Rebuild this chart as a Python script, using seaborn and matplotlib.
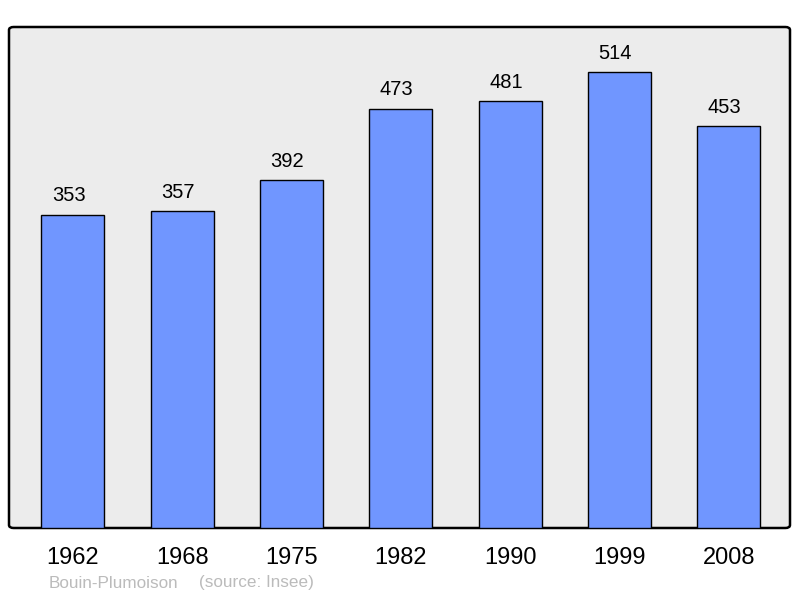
import matplotlib
matplotlib.use("Agg")
import matplotlib.pyplot as plt
import seaborn as sns
import pandas as pd
from matplotlib.patches import FancyBboxPatch

years = ["1962", "1968", "1975", "1982", "1990", "1999", "2008"]
population = [353, 357, 392, 473, 481, 514, 453]
commune = "Bouin-Plumoison"
source = "(source: Insee)"

sns.set_style("white")
plt.rcParams['font.family'] = ['Liberation Sans', 'DejaVu Sans']

df = pd.DataFrame({"year": years, "pop": population})

fig = plt.figure(figsize=(8, 5.98), dpi=100)
ax = fig.add_axes([9/800, 70/598, 781/800, 501/598])
ax.patch.set_visible(False)
for s in ax.spines.values():
    s.set_visible(False)

frame = FancyBboxPatch((0, 0), 1, 1, boxstyle="round,pad=0,rounding_size=0.006",
                       transform=ax.transAxes, facecolor="#ececec", edgecolor="black",
                       linewidth=1.8, zorder=0, clip_on=False)
ax.add_patch(frame)

sns.barplot(data=df, x="year", y="pop", color="#7096ff", saturation=1,
            edgecolor="black", linewidth=1.0, width=0.576, ax=ax, zorder=2)

for i, v in enumerate(population):
    ax.annotate(str(v), (i, v), xytext=(-3, 7), textcoords="offset points",
                ha="center", va="bottom", fontsize=14.5, color="black")

ax.set_xlim(-0.585, 6.56)
ax.set_ylim(0, 565)
ax.set_yticks([])
ax.set_xlabel("")
ax.set_ylabel("")
ax.tick_params(axis="x", length=0, pad=14, labelsize=17, labelcolor="black")

fig.text(49/800, 1 - 583/598, commune, color="#bbbbbb",
         fontsize=12.3, ha="left", va="center")
fig.text(199/800, 1 - 583/598, source, color="#bbbbbb",
         fontsize=12.3, ha="left", va="center")

fig.savefig("out.png", dpi=100)
